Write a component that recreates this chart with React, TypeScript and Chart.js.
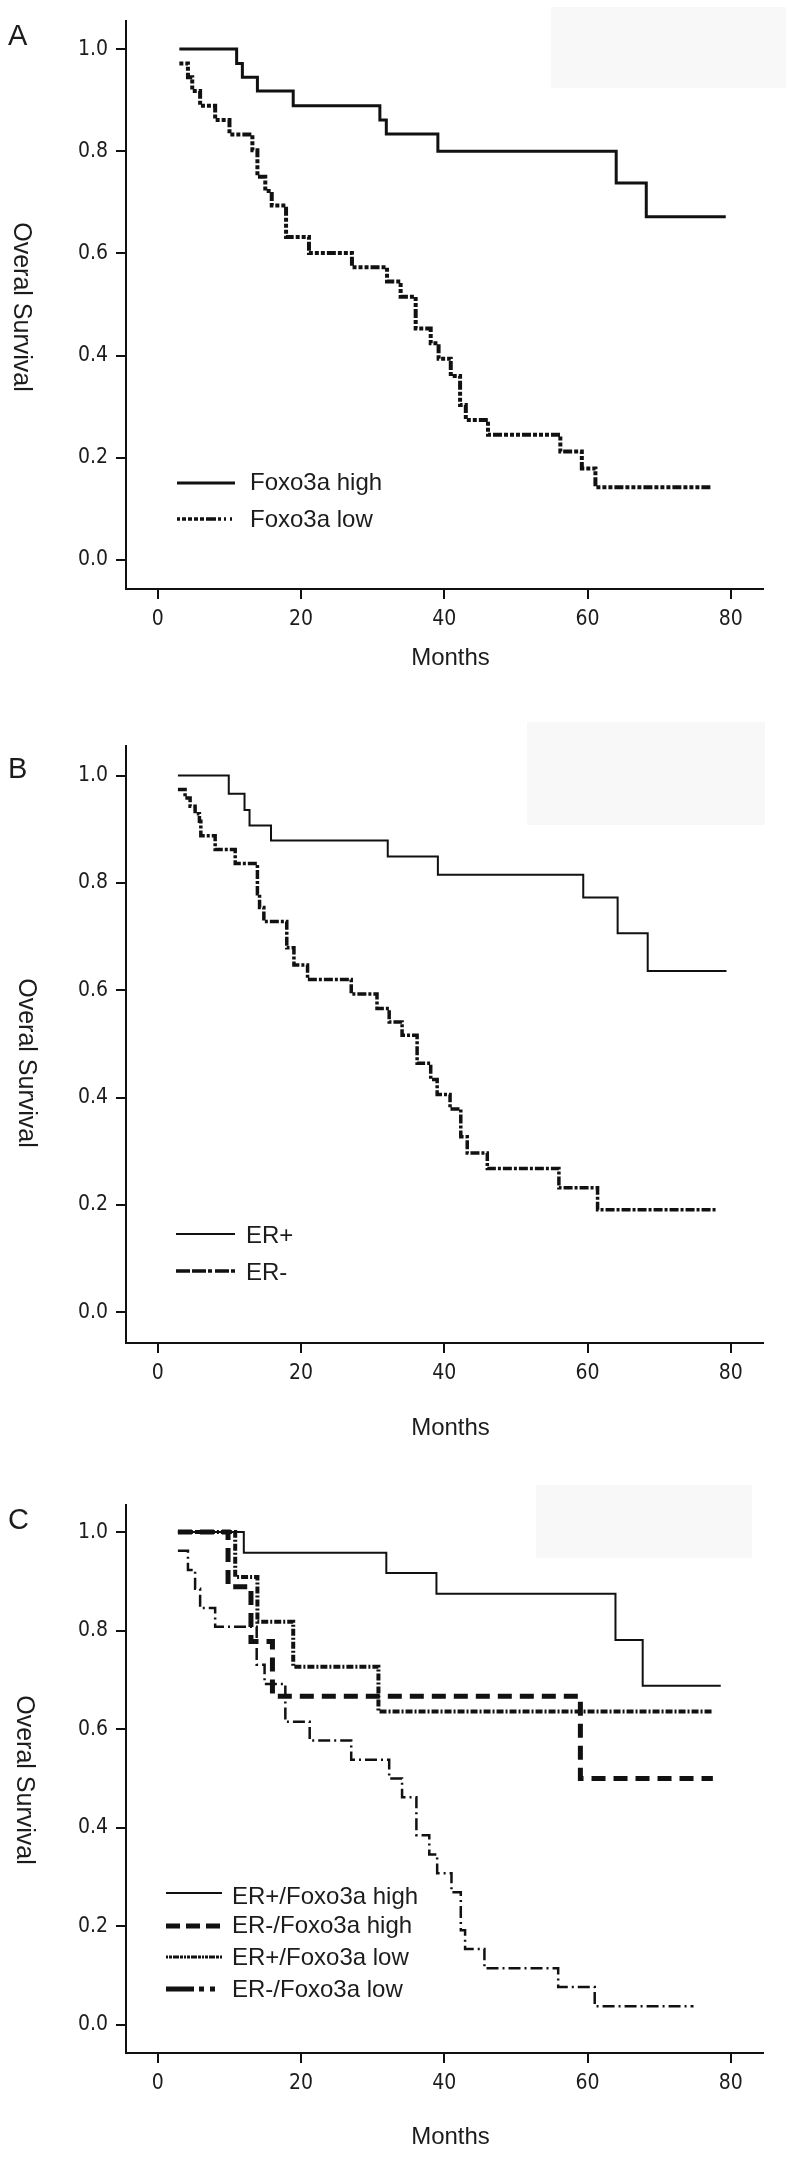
import React, { useEffect, useRef } from "react";
import { Chart, registerables } from "chart.js";

Chart.register(...registerables);

// ---------- shared axis values ----------
const monthTicks = [0, 20, 40, 60, 80];
const survivalTicks = [0, 0.2, 0.4, 0.6, 0.8, 1.0];
const xTitle = "Months";
const yTitle = "Overal Survival";

// ---------- Panel A ----------
const aHighLabel = "Foxo3a high";
const aHighMonths = [3.0, 11.0, 11.8, 13.9, 18.9, 31.0, 31.9, 39.1, 64.0, 68.2, 79.3];
const aHighSurvival = [1.0, 0.972, 0.945, 0.918, 0.889, 0.861, 0.834, 0.8, 0.738, 0.672, 0.672];
const aLowLabel = "Foxo3a low";
const aLowMonths = [3.0, 4.2, 4.8, 5.9, 8.0, 10.0, 13.2, 13.9, 15.0, 15.9, 17.9, 21.1, 27.1, 32.0, 33.9, 36.0, 38.1, 39.2, 40.9, 42.2, 43.0, 46.1, 56.2, 59.2, 61.1, 77.4];
const aLowSurvival = [0.972, 0.945, 0.918, 0.889, 0.861, 0.833, 0.802, 0.75, 0.722, 0.694, 0.632, 0.601, 0.573, 0.545, 0.515, 0.453, 0.424, 0.394, 0.36, 0.303, 0.274, 0.245, 0.212, 0.179, 0.142, 0.142];

// ---------- Panel B ----------
const bPosLabel = "ER+";
const bPosMonths = [2.8, 9.9, 12.1, 12.8, 15.8, 32.1, 39.1, 59.4, 64.2, 68.4, 79.4];
const bPosSurvival = [1.0, 0.966, 0.936, 0.907, 0.879, 0.849, 0.815, 0.773, 0.706, 0.636, 0.636];
const bNegLabel = "ER-";
const bNegMonths = [2.8, 3.8, 4.5, 5.2, 5.8, 6.0, 8.0, 10.8, 13.9, 14.2, 14.8, 18.0, 19.0, 20.9, 27.0, 30.6, 32.3, 34.1, 36.2, 38.1, 39.0, 40.8, 42.3, 43.2, 46.0, 56.0, 61.4, 78.0];
const bNegSurvival = [0.974, 0.958, 0.943, 0.929, 0.915, 0.888, 0.862, 0.836, 0.78, 0.754, 0.728, 0.679, 0.647, 0.62, 0.593, 0.566, 0.541, 0.516, 0.464, 0.434, 0.406, 0.379, 0.327, 0.297, 0.268, 0.232, 0.191, 0.191];

// ---------- Panel C ----------
const cPosHighLabel = "ER+/Foxo3a high";
const cPosHighMonths = [2.8, 12.0, 31.9, 38.9, 63.9, 67.7, 78.6];
const cPosHighSurvival = [1.0, 0.958, 0.917, 0.875, 0.781, 0.688, 0.688];
const cNegHighLabel = "ER-/Foxo3a high";
const cNegHighMonths = [2.8, 9.8, 13.0, 16.0, 59.0, 77.5];
const cNegHighSurvival = [1.0, 0.889, 0.778, 0.667, 0.5, 0.5];
const cPosLowLabel = "ER+/Foxo3a low";
const cPosLowMonths = [2.8, 10.8, 13.9, 18.9, 30.8, 77.6];
const cPosLowSurvival = [1.0, 0.909, 0.818, 0.727, 0.636, 0.636];
const cNegLowLabel = "ER-/Foxo3a low";
const cNegLowMonths = [2.8, 4.2, 5.2, 5.9, 8.0, 13.8, 14.9, 17.8, 21.2, 27.0, 32.3, 34.1, 36.1, 37.9, 39.0, 41.0, 42.3, 42.9, 45.6, 55.9, 61.0, 74.8];
const cNegLowSurvival = [0.962, 0.923, 0.885, 0.846, 0.808, 0.731, 0.692, 0.615, 0.577, 0.538, 0.5, 0.462, 0.385, 0.346, 0.308, 0.269, 0.192, 0.154, 0.115, 0.077, 0.038, 0.038];

// ---------- layout / style ----------
const INK = "#111";
const TEXT = "#1c1c1c";
const SANS = '"Liberation Sans", Arial, Helvetica, sans-serif';
const NARROW = '"Liberation Sans Narrow", "Arial Narrow", "DejaVu Sans Condensed", sans-serif';

type Style = { width: number; dash: number[]; lWidth: number; lDash: number[] };
type Series = { label: string; months: number[]; surv: number[]; style: Style };
type PanelSpec = {
  letter: string;
  top: number;
  height: number;
  padTop: number;
  padBottom: number;
  letterBase: number;
  yTitleX: number;
  yTitleY: number;
  xTitleY: number;
  rect: [number, number, number, number];
  legendLineX: [number, number];
  legendTextX: number;
  legendLineY: number[];
  legendBase: number[];
  series: Series[];
};

const solid = (w: number): Style => ({ width: w, dash: [], lWidth: w, lDash: [] });

const PANELS: PanelSpec[] = [
  {
    letter: "A",
    top: 0,
    height: 690,
    padTop: 21,
    padBottom: 690 - 589 - 60,
    letterBase: 45,
    yTitleX: 21,
    yTitleY: 307,
    xTitleY: 658,
    rect: [551, 7, 235, 81],
    legendLineX: [177, 235],
    legendTextX: 250,
    legendLineY: [483, 519],
    legendBase: [490, 527],
    series: [
      { label: aHighLabel, months: aHighMonths, surv: aHighSurvival, style: solid(3) },
      {
        label: aLowLabel,
        months: aLowMonths,
        surv: aLowSurvival,
        style: { width: 4, dash: [4, 2, 4, 2, 4, 2, 9, 2], lWidth: 3.5, lDash: [3, 2, 4, 2, 4, 2, 4, 2, 4, 2, 10, 2, 3] },
      },
    ],
  },
  {
    letter: "B",
    top: 690,
    height: 760,
    padTop: 746 - 690,
    padBottom: 760 - (1343 - 690) - 60,
    letterBase: 778 - 690,
    yTitleX: 26,
    yTitleY: 1063 - 690,
    xTitleY: 1428 - 690,
    rect: [527, 722 - 690, 238, 103],
    legendLineX: [176, 235],
    legendTextX: 246,
    legendLineY: [1234 - 690, 1271 - 690],
    legendBase: [1243 - 690, 1280 - 690],
    series: [
      { label: bPosLabel, months: bPosMonths, surv: bPosSurvival, style: solid(2) },
      {
        label: bNegLabel,
        months: bNegMonths,
        surv: bNegSurvival,
        style: { width: 3.5, dash: [9, 2, 3, 2], lWidth: 3.5, lDash: [14, 2, 14, 2, 4, 3] },
      },
    ],
  },
  {
    letter: "C",
    top: 1450,
    height: 707,
    padTop: 1505 - 1450,
    padBottom: 707 - (2053 - 1450) - 60,
    letterBase: 1529 - 1450,
    yTitleX: 24,
    yTitleY: 1780 - 1450,
    xTitleY: 2137 - 1450,
    rect: [536, 1485 - 1450, 216, 73],
    legendLineX: [166, 222],
    legendTextX: 232,
    legendLineY: [443, 476, 507, 539],
    legendBase: [454, 483, 515, 547],
    series: [
      { label: cPosHighLabel, months: cPosHighMonths, surv: cPosHighSurvival, style: solid(2) },
      {
        label: cNegHighLabel,
        months: cNegHighMonths,
        surv: cNegHighSurvival,
        style: { width: 5, dash: [14, 8], lWidth: 5, lDash: [14, 6] },
      },
      {
        label: cPosLowLabel,
        months: cPosLowMonths,
        surv: cPosLowSurvival,
        style: { width: 4, dash: [2, 2, 7, 2], lWidth: 3, lDash: [2, 1, 3, 1, 6, 1, 3, 1] },
      },
      {
        label: cNegLowLabel,
        months: cNegLowMonths,
        surv: cNegLowSurvival,
        style: { width: 2.5, dash: [12, 4, 2, 4], lWidth: 5, lDash: [28, 5, 5, 6, 5, 20] },
      },
    ],
  },
];

function makeDecor(p: PanelSpec) {
  return {
    id: "decor" + p.letter,
    beforeDraw(chart: any) {
      const ctx = chart.ctx;
      ctx.save();
      ctx.fillStyle = "#f8f8f8";
      ctx.fillRect(p.rect[0], p.rect[1], p.rect[2], p.rect[3]);
      ctx.restore();
    },
    afterDraw(chart: any) {
      const ctx = chart.ctx;
      const area = chart.chartArea;
      ctx.save();
      // panel letter
      ctx.fillStyle = TEXT;
      ctx.font = `29px ${SANS}`;
      ctx.textAlign = "left";
      ctx.textBaseline = "alphabetic";
      ctx.fillText(p.letter, 8, p.letterBase);
      // x title
      ctx.font = `24px ${SANS}`;
      ctx.textAlign = "center";
      ctx.textBaseline = "middle";
      ctx.fillText(xTitle, (area.left + area.right) / 2 + 6, p.xTitleY);
      // y title (reads top to bottom)
      ctx.save();
      ctx.translate(p.yTitleX, p.yTitleY);
      ctx.rotate(Math.PI / 2);
      ctx.font = `25px ${SANS}`;
      ctx.textAlign = "center";
      ctx.textBaseline = "middle";
      ctx.fillText(yTitle, 0, 0);
      ctx.restore();
      // legend
      chart.data.datasets.forEach((ds: any, i: number) => {
        const st = p.series[i].style;
        ctx.save();
        ctx.strokeStyle = INK;
        ctx.lineWidth = st.lWidth;
        ctx.setLineDash(st.lDash);
        ctx.lineCap = "butt";
        ctx.beginPath();
        ctx.moveTo(p.legendLineX[0], p.legendLineY[i]);
        ctx.lineTo(p.legendLineX[1], p.legendLineY[i]);
        ctx.stroke();
        ctx.restore();
        ctx.fillStyle = TEXT;
        ctx.font = `24px ${SANS}`;
        ctx.textAlign = "left";
        ctx.textBaseline = "alphabetic";
        ctx.fillText(ds.label, p.legendTextX, p.legendBase[i]);
      });
      ctx.restore();
    },
  };
}

function Panel({ p }: { p: PanelSpec }) {
  const ref = useRef<HTMLCanvasElement | null>(null);
  useEffect(() => {
    if (!ref.current) return;
    const datasets = p.series.map((s) => ({
      label: s.label,
      data: s.months.map((m, i) => ({ x: m, y: s.surv[i] })),
      borderColor: INK,
      borderWidth: s.style.width,
      borderDash: s.style.dash,
      borderCapStyle: "butt" as const,
      borderJoinStyle: "miter" as const,
      stepped: "before" as const,
      pointRadius: 0,
      pointHoverRadius: 0,
      fill: false,
      tension: 0,
    }));
    const tickFont = { family: NARROW, size: 21 };
    const chart = new Chart(ref.current, {
      type: "line",
      data: { datasets },
      plugins: [makeDecor(p)],
      options: {
        animation: false,
        responsive: false,
        maintainAspectRatio: false,
        devicePixelRatio: 1,
        events: [],
        layout: { padding: { left: 26, right: 25, top: p.padTop, bottom: p.padBottom } },
        plugins: { legend: { display: false }, tooltip: { enabled: false }, title: { display: false } },
        scales: {
          x: {
            type: "linear",
            min: -4.45,
            max: 84.5,
            afterBuildTicks: (s: any) => {
              s.ticks = monthTicks.map((v) => ({ value: v }));
            },
            afterFit: (s: any) => {
              s.height = 60;
            },
            grid: { display: true, drawOnChartArea: false, drawTicks: true, tickLength: 10, color: INK, lineWidth: 2 },
            border: { display: true, color: INK, width: 2 },
            ticks: { color: TEXT, font: tickFont, padding: 8, maxRotation: 0, autoSkip: false },
          },
          y: {
            type: "linear",
            min: -0.057,
            max: 1.055,
            afterBuildTicks: (s: any) => {
              s.ticks = survivalTicks.map((v) => ({ value: v }));
            },
            afterFit: (s: any) => {
              s.width = 100;
            },
            grid: { display: true, drawOnChartArea: false, drawTicks: true, tickLength: 10, color: INK, lineWidth: 2 },
            border: { display: true, color: INK, width: 2 },
            ticks: {
              color: TEXT,
              font: tickFont,
              padding: 8,
              autoSkip: false,
              callback: (v: any) => Number(v).toFixed(1),
            },
          },
        },
      } as any,
    });
    return () => chart.destroy();
  }, [p]);
  return (
    <canvas
      ref={ref}
      width={788}
      height={p.height}
      style={{ position: "absolute", left: 0, top: p.top, width: 788, height: p.height, display: "block" }}
    />
  );
}

export default function App() {
  return (
    <div style={{ position: "absolute", left: 0, top: 0, width: 788, height: 2157, background: "#fff", overflow: "hidden" }}>
      {PANELS.map((p) => (
        <Panel key={p.letter} p={p} />
      ))}
    </div>
  );
}
